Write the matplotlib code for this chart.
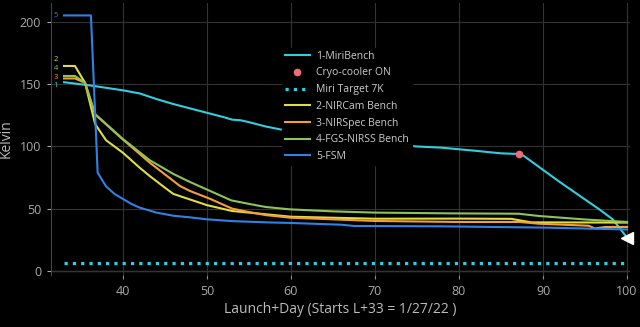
import matplotlib
matplotlib.use("Agg")
import matplotlib.pyplot as plt

plt.rcParams['font.family'] = ['Open Sans', 'DejaVu Sans']

# 1-MiriBench
miri_x = [33, 36, 38, 40, 42, 44, 46, 48, 50, 52, 53, 54, 55, 57, 60, 65, 70, 75, 78, 82, 85, 87, 87.7, 92, 96.7, 98.3, 100]
miri_y = [151.5, 149, 147, 145, 142.5, 138, 134, 130.5, 127, 123.5, 121.5, 121, 119.5, 116, 112, 107, 103, 100, 99, 96.5, 94.5, 94, 92.5, 71.5, 49.6, 41.6, 27]
# cryo-cooler switched on
cryo_x = [87.1]
cryo_y = [94.1]
# Miri target temperature
target_x = [33, 100]
target_y = [7, 7]
# 2-NIRCam Bench
nircam_x = [33, 34.3, 35.5, 36.7, 38, 40, 42, 43.2, 45, 46, 48, 50, 53, 55, 60, 70, 80, 86.2, 88.6, 100]
nircam_y = [164.5, 164.5, 151, 118, 105, 95, 83, 76.3, 67, 62, 57.5, 53, 48.3, 47, 43.7, 42.1, 42.2, 42, 39.2, 39]
# 3-NIRSpec Bench
nirspec_x = [33, 34.3, 35.5, 36.7, 40, 43.2, 46.8, 48, 50.4, 53, 55, 57, 60, 70, 80, 87.2, 89.5, 95.4, 96.2, 97.4, 100]
nirspec_y = [154.5, 154.5, 151, 125.6, 105.6, 87, 68.3, 64.3, 58, 50.2, 47.5, 45, 42.9, 40.3, 39.5, 39.5, 38.1, 36.5, 34.3, 35.5, 35.5]
# 4-FGS-NIRSS Bench
fgs_x = [33, 34.3, 35.5, 36.7, 40, 43.2, 46, 48, 50.4, 52.9, 55, 57, 59.9, 65, 70, 78.8, 87.1, 89.5, 95, 100]
fgs_y = [156.5, 156.5, 151, 126, 106, 89, 78, 71.5, 64.3, 56.8, 54, 51.5, 49.6, 48, 47, 46.4, 46.1, 44.3, 41.5, 39.5]
# 5-FSM
fsm_x = [33, 36.2, 37, 38, 39, 40, 41, 42, 44, 46, 48, 50, 53, 57, 60, 66, 67.5, 78, 90, 100]
fsm_y = [205, 205, 79, 68, 62, 58, 54, 51, 47, 44.5, 43.2, 41.6, 40.2, 39.2, 38.7, 37.3, 36.3, 36, 35, 33.5]

start_labels = ["5", "2", "4", "3", "1"]
start_label_y = [205, 169.5, 162.5, 155.5, 148.5]

c_miri = "#30cfe0"
c_cryo = "#f06a78"
c_nircam = "#e0dc44"
c_nirspec = "#f4a035"
c_fgs = "#8cc45a"
c_fsm = "#2f82e4"
label_colors = [c_fsm, c_nircam, c_fgs, c_nirspec, c_miri]

fig = plt.figure(figsize=(6.4, 3.27), dpi=100, facecolor="black")
ax = fig.add_axes([0.0797, 0.159, 0.904, 0.832])
ax.set_facecolor("black")

lw = 1.5
ax.plot(miri_x, miri_y, color=c_miri, lw=lw, label="1-MiriBench", zorder=3)
ax.plot(cryo_x, cryo_y, 'o', color=c_cryo, ms=4.5, label="Cryo-cooler ON", zorder=5)
ax.plot(target_x, target_y, color=c_miri, lw=2.3, linestyle=(0, (1, 1.6)), label="Miri Target 7K", zorder=3)
ax.plot(nircam_x, nircam_y, color=c_nircam, lw=lw, label="2-NIRCam Bench", zorder=3)
ax.plot(nirspec_x, nirspec_y, color=c_nirspec, lw=lw, label="3-NIRSpec Bench", zorder=3)
ax.plot(fgs_x, fgs_y, color=c_fgs, lw=lw, label="4-FGS-NIRSS Bench", zorder=3)
ax.plot(fsm_x, fsm_y, color=c_fsm, lw=lw, label="5-FSM", zorder=3)
# arrow head at the end of the Miri line
ax.plot(miri_x[-1:], miri_y[-1:], marker='<', color="white", ms=9, zorder=6, clip_on=False)

for t, yv, c in zip(start_labels, start_label_y, label_colors):
    ax.text(32.0, yv, t, color=c, fontsize=5.5, ha="center", va="center")

ax.set_xlim(31.45, 100.3)
ax.set_ylim(-3, 215)
ax.set_xticks([40, 50, 60, 70, 80, 90, 100])
ax.set_yticks([0, 50, 100, 150, 200])
ax.grid(True, color="#333333", lw=0.8, zorder=0)
ax.axhline(0, color="#4a4a4a", lw=1.0, zorder=1)
for s in ["top", "right", "bottom"]:
    ax.spines[s].set_visible(False)
ax.spines["left"].set_color("#444444")
ax.tick_params(colors="#aaaaaa", labelsize=9, length=3, width=0.8, pad=4)
ax.tick_params(axis="x", color="#888888")
ax.set_ylabel("Kelvin", color="#bbbbbb", fontsize=10)
ax.yaxis.set_label_coords(-0.064, 0.5)
ax.set_xlabel("Launch+Day (Starts L+33 = 1/27/22 )", color="#bbbbbb", fontsize=10, labelpad=3)

leg = ax.legend(loc="upper left", bbox_to_anchor=(0.39, 0.855), frameon=True,
                facecolor="black", edgecolor="black", framealpha=1.0,
                fontsize=7.5, labelspacing=0.55, handlelength=2.4, handletextpad=0.6,
                borderpad=0.3)
leg.set_zorder(10)
for txt in leg.get_texts():
    txt.set_color("#cccccc")

fig.savefig("out.png", dpi=100, facecolor="black")
